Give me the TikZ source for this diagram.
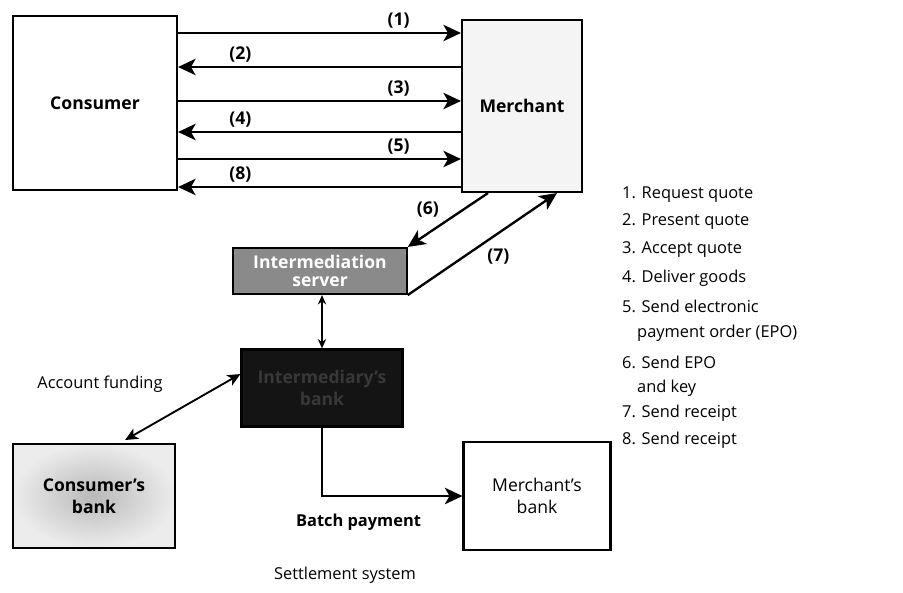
\documentclass[tikz,border=0pt]{standalone}
\usepackage{fontspec}
\setmainfont{Open Sans}
\usetikzlibrary{arrows.meta}
\definecolor{paper}{HTML}{FFFFFF}
\definecolor{speck}{HTML}{F4F4F4}
\definecolor{server}{HTML}{8A8A8A}
\definecolor{vault}{HTML}{141414}

\tikzset{
  box/.style={draw=black,line width=1.8pt,inner sep=2pt,align=center,
    font=\fontsize{15}{19}\selectfont\bfseries},
  flow/.style={line width=2pt,-{Stealth[length=15pt,width=14pt,inset=4pt]}},
  twoway/.style={line width=1.6pt,
    {Stealth[length=11pt,width=10pt,inset=3pt]}-{Stealth[length=11pt,width=10pt,inset=3pt]}},
  lbl/.style={font=\fontsize{15}{17}\selectfont\bfseries},
  item/.style={anchor=west,inner sep=0pt,font=\fontsize{14}{16}\selectfont}
}

\begin{document}
\begin{tikzpicture}[x=0.03cm,y=-0.03cm]
    \useasboundingbox[fill=paper] (0,0) rectangle (903,592);
    % parties
    \node[box,minimum width=4.92cm,minimum height=5.22cm] (cons) at (95,103) {Consumer};
    \node[box,fill=speck,minimum width=3.6cm,minimum height=5.16cm] (merch) at (522,106) {Merchant};
    \node[box,fill=server,text=white,minimum width=5.2cm,minimum height=1.38cm,
      font=\fontsize{15}{15}\selectfont\bfseries] (inter) at (320,271) {Intermediation\\server};
    \node[box,fill=vault,text=black!78,minimum width=4.83cm,minimum height=2.31cm] (ibank) at (322,388) {Intermediary's\\bank};
    \node[box,inner color=gray!55,outer color=gray!15,minimum width=4.86cm,minimum height=3.12cm] (cbank) at (94,496) {Consumer's\\bank};
    \node[box,font=\fontsize{15}{19}\selectfont,minimum width=4.41cm,minimum height=3.24cm] (mbank) at (537,496) {Merchant's\\bank};
    % purchase dialogue
    \foreach \y/\n in {33/1,101/3,159/5}
      \draw[flow] (cons.east |- 0,\y) -- node[lbl,above,pos=0.78] {(\n)} (merch.west |- 0,\y);
    \foreach \y/\n in {67/2,132/4,187/8}
      \draw[flow] (merch.west |- 0,\y) -- node[lbl,above,pos=0.78] {(\n)} (cons.east |- 0,\y);
    % intermediation
    \draw[flow] ([xshift=-1.02cm]merch.south) -- node[lbl,above left,pos=0.55] {(6)} (inter.north east);
    \draw[flow] (inter.south east) -- node[lbl,below right,pos=0.5] {(7)} ([xshift=1.05cm]merch.south);
    \draw[line width=1.4pt,{Stealth[length=8pt,width=7pt]}-{Stealth[length=8pt,width=7pt]}] (ibank.north |- inter.south) -- (ibank.north);
    % settlement
    \draw[twoway,shorten <=5pt] ([xshift=0.78cm]cbank.north) -- ([yshift=0.42cm]ibank.west);
    \node[item,anchor=center] (fund) at (100,384) {Account funding};
    \draw[flow] (ibank.south) |- node[lbl,below=0.4cm,pos=0.63,font=\fontsize{14}{16}\selectfont\bfseries] {Batch payment} (mbank.west);
    \node[item,anchor=center] (settle) at (345,575) {Settlement system};
    % legend
    \foreach \y/\x/\t in {195/622/1. Request quote,222/622/2. Present quote,250/622/3. Accept quote,
      278/622/4. Deliver goods,306/622/5. Send electronic,333/637/payment order (EPO),
      362/622/6. Send EPO,388/637/and key,413/622/7. Send receipt,440/622/8. Send receipt}
      \node[item] (step\y) at (\x,\y) {\t};
  \end{tikzpicture}
\end{document}
